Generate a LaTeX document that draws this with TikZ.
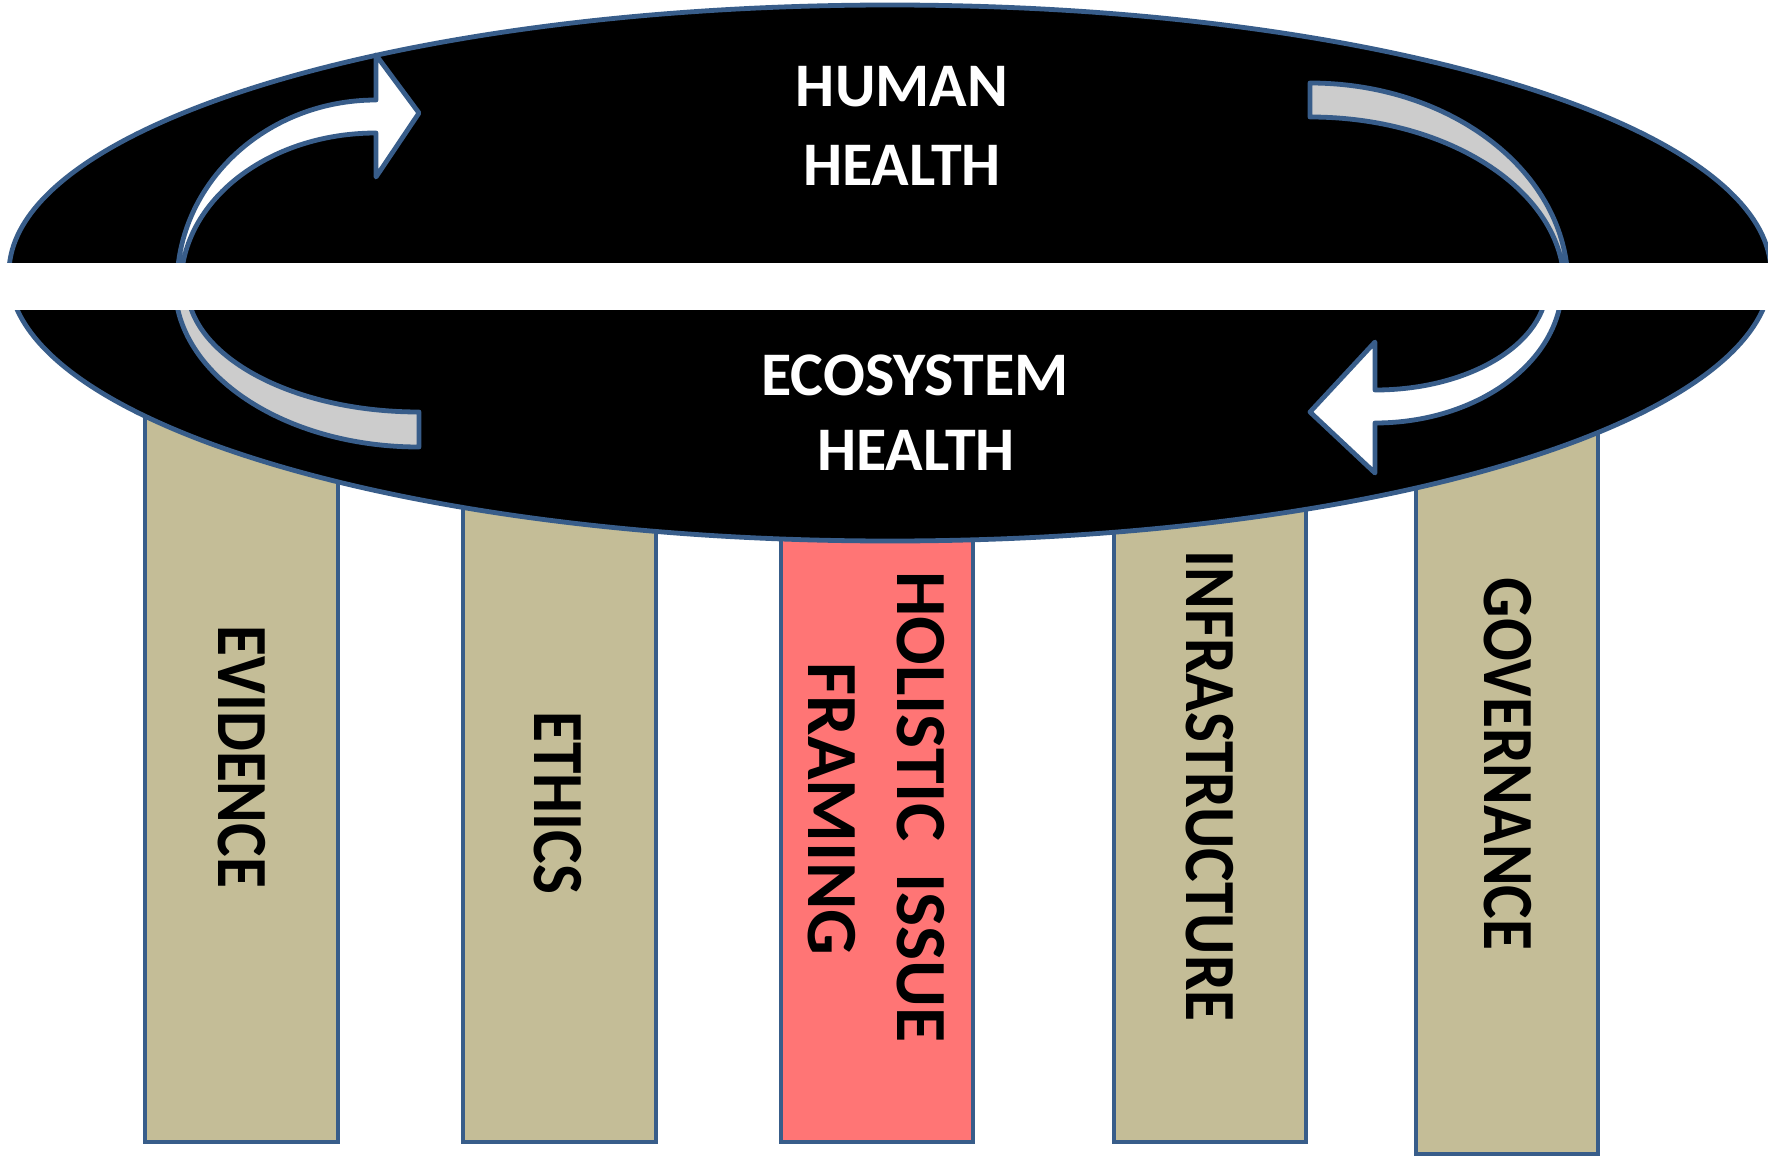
\documentclass[tikz,border=0pt]{standalone}
\usepackage{fontspec}
\setmainfont{Carlito}
\usepackage{tikz}
\usetikzlibrary{shapes.geometric}
\definecolor{ppblue}{RGB}{56,93,138}
\definecolor{pillartan}{RGB}{196,189,151}
\definecolor{salmon}{RGB}{255,117,117}
\definecolor{arrowgray}{RGB}{204,204,204}

\begin{document}
\begin{tikzpicture}[x=0.5pt, y=-0.5pt]
\tikzstyle{pillar}=[draw=ppblue, line width=1.8pt, fill=pillartan, inner sep=0pt,
minimum width=96pt, minimum height=376pt]
\tikzstyle{pillartext}=[rotate=-90, anchor=base, inner sep=0pt, font=\fontsize{36}{40}\selectfont\bfseries]
\tikzstyle{healthtext}=[anchor=base, inner sep=0pt, text=white, font=\fontsize{31}{36}\selectfont\bfseries]
\tikzstyle{looparrow}=[draw=ppblue, line width=2.4pt, line join=round]

\useasboundingbox (0,0) rectangle (1768,1156);

% pillars
\node (evidence) [pillar, minimum width=96.5pt] at (241.5,766) {};
\node (ethics) [pillar, minimum width=96.5pt] at (559.5,766) {};
\node (holistic) [pillar, fill=salmon] at (877,766) {};
\node (infra) [pillar] at (1210,766) {};
\node (governance) [pillar, minimum width=91pt, minimum height=382pt] at (1507,772) {};

% pillar texts
\node (evidencetext) [pillartext] at (218,757) {\scalebox{0.88}[1]{EVIDENCE}};
\node (ethicstext) [pillartext] at (534,803) {\scalebox{0.88}[1]{ETHICS}};
\node (holistictext) [pillartext] at (897,807) {HOLISTIC\ \ ISSUE};
\node (framingtext) [pillartext] at (808,809) {FRAMING};
\node (infratext) [pillartext] at (1186,786) {\scalebox{0.88}[1]{INFRASTRUCTURE}};
\node (governancetext) [pillartext] at (1484,764) {\scalebox{0.88}[1]{GOVERNANCE}};

% platform
\node (platform) [ellipse, draw=ppblue, line width=2.4pt, fill=black, inner sep=0pt,
minimum width=881pt, minimum height=268pt] at (890,273) {};

% loop arrows
\filldraw[looparrow, fill=white] (177,285) .. controls (177,183) and (266,100) .. (376,100)
  -- (376,55) -- (419,113) -- (376,177) -- (376,133)
  .. controls (268,133) and (181,201) .. (181,285) -- cycle;
\filldraw[looparrow, fill=arrowgray] (175,285) .. controls (175,374) and (284,447) .. (419,447)
  -- (419,412) .. controls (291,412) and (187,355) .. (187,285) -- cycle;
\filldraw[looparrow, fill=arrowgray] (1310,83) .. controls (1452,83) and (1568,173) .. (1568,285)
  -- (1564,285) .. controls (1564,192) and (1450,117) .. (1310,117) -- cycle;
\filldraw[looparrow, fill=white] (1562,285) .. controls (1562,361) and (1478,423) .. (1375,423)
  -- (1375,473) -- (1310,412) -- (1375,342) -- (1375,390)
  .. controls (1470,390) and (1547,343) .. (1547,285) -- cycle;

% gap
\fill[white] (0,263) rectangle (1768,310);

% health texts
\node (human) [healthtext] at (902,107) {HUMAN};
\node (humanhealth) [healthtext] at (902,185) {HEALTH};
\node (ecosystem) [healthtext] at (915,395) {ECOSYSTEM};
\node (ecohealth) [healthtext] at (916,470) {HEALTH};

\end{tikzpicture}
\end{document}
